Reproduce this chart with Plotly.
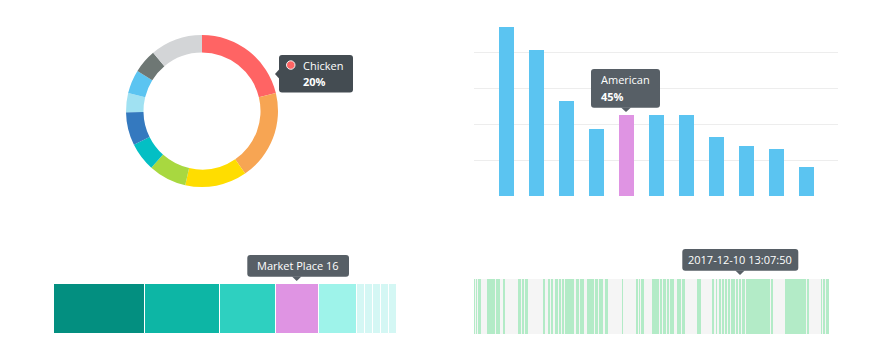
import numpy as np
import plotly.graph_objects as go

W, H = 880, 355
OX, OY = 8, 8  # page body margin offset

# ---------------- data ----------------
# Donut
pie_labels = ["Chicken", "Pizza", "Burgers", "Salad", "Sushi", "Noodles",
              "Tacos", "Soup", "Steak", "Other"]
pie_values = [21, 19, 13, 8, 6, 7, 4, 5, 5, 11]
pie_colors = ["#FF6464", "#F7A553", "#FFDD00", "#A8D840", "#03BFC4",
              "#3479BF", "#A0E1F2", "#5BC4F1", "#6E7774", "#D3D5D7"]

# Bar chart (percent)
bar_cats = ["Italian", "Chinese", "Mexican", "Japanese", "American", "Thai",
            "Indian", "French", "Greek", "Korean", "Spanish"]
bar_values = [94, 81, 53, 37, 45, 45, 45, 33, 28, 26, 16]
bar_highlight = "American"

# Stacked share bar
share_labels = ["Online", "Retail", "Wholesale", "Market Place", "Direct",
                "Partner", "Events", "Catalog", "Phone", "Other"]
share_values = [34, 28, 21, 16, 14, 3, 3, 3, 3, 3]
share_colors = ["#038F80", "#0DB6A5", "#2ED0C0", "#DF94E3", "#9EF3EA",
                "#D4F7F4", "#D4F7F4", "#D4F7F4", "#D4F7F4", "#D4F7F4"]

# Timeline events (minutes from start of window, duration in minutes)
event_start = [0, 8, 16, 51, 79, 89, 99, 119, 176, 192, 205, 279, 299, 308,
               323, 340, 352, 363, 408, 424, 452, 461, 475, 483, 501, 509,
               523, 592, 651, 660, 668, 712, 744, 757, 775, 784, 793, 812,
               823, 833, 895, 903, 955, 968, 978, 992, 1006, 1016, 1028,
               1039, 1050, 1060, 1071, 1088, 1188, 1242, 1333, 1388, 1397,
               1409]
event_dur = [4, 4, 12, 24, 5, 6, 4, 4, 12, 5, 10, 4, 5, 8, 13, 8, 7, 36, 11,
             15, 5, 10, 4, 13, 4, 7, 13, 4, 5, 4, 11, 28, 7, 11, 5, 5, 4, 7,
             5, 10, 4, 4, 4, 4, 9, 8, 5, 6, 5, 5, 5, 5, 12, 96, 6, 86, 6, 4,
             4, 10]
timeline_span = 1420

# ---------------- helpers ----------------
def px(x):
    return (x - OX) / W


def py(y):
    return 1 - (y - OY) / H


def rrect(x0, y0, x1, y1, r):
    rx, ry = r / W, r / H
    X0, X1 = px(x0), px(x1)
    Y0, Y1 = py(y0), py(y1)  # Y0 top (larger), Y1 bottom
    return (f"M{X0+rx},{Y0} L{X1-rx},{Y0} Q{X1},{Y0} {X1},{Y0-ry} "
            f"L{X1},{Y1+ry} Q{X1},{Y1} {X1-rx},{Y1} L{X0+rx},{Y1} "
            f"Q{X0},{Y1} {X0},{Y1+ry} L{X0},{Y0-ry} Q{X0},{Y0} {X0+rx},{Y0} Z")


def tri(points):
    p = [f"{px(a)},{py(b)}" for a, b in points]
    return "M" + " L".join(p) + " Z"


FONT = "Open Sans"
fig = go.Figure()

# Donut
fig.add_trace(go.Pie(
    labels=pie_labels, values=pie_values, hole=0.77, sort=False,
    direction="clockwise", rotation=0, textinfo="none", hoverinfo="skip",
    marker=dict(colors=pie_colors, line=dict(width=0)),
    domain=dict(x=[px(202 - 76), px(202 + 76)], y=[py(187), py(35)]),
    showlegend=False,
))

# Bar chart
fig.add_trace(go.Bar(
    x=bar_cats, y=bar_values, width=0.5,
    marker=dict(color=["#DF94E3" if c == bar_highlight else "#5BC4F1" for c in bar_cats],
                line=dict(width=0)),
    xaxis="x", yaxis="y", showlegend=False, hoverinfo="skip",
))

# Stacked share bar
share_base = np.concatenate([[0], np.cumsum(share_values)[:-1]])
fig.add_trace(go.Bar(
    y=[0] * len(share_values), x=share_values, base=share_base,
    orientation="h", width=1,
    marker=dict(color=share_colors, line=dict(color="white", width=1)),
    xaxis="x2", yaxis="y2", showlegend=False, hoverinfo="skip",
))

# Timeline
fig.add_trace(go.Bar(
    y=[0] * len(event_start), x=event_dur, base=event_start,
    orientation="h", width=1,
    marker=dict(color="#B3EBC7", line=dict(width=0)),
    xaxis="x3", yaxis="y3", showlegend=False, hoverinfo="skip",
))

hidden = dict(showgrid=False, zeroline=False, showticklabels=False,
              showline=False, ticks="", fixedrange=True)

shapes = [
    # timeline background
    dict(type="rect", xref="x3 domain", yref="y3 domain", x0=0, x1=1, y0=0, y1=1,
         fillcolor="#F5F5F5", line=dict(width=0), layer="below"),
    # donut tooltip
    dict(type="path", xref="paper", yref="paper", path=rrect(279, 55, 353, 92.5, 3),
         fillcolor="#444C52", line=dict(width=0)),
    dict(type="path", xref="paper", yref="paper",
         path=tri([(279.5, 69), (275, 74), (279.5, 79)]),
         fillcolor="#444C52", line=dict(width=0)),
    dict(type="circle", xref="paper", yref="paper",
         x0=px(286.5), x1=px(295), y0=py(69.3), y1=py(60.8),
         fillcolor="#FF6464", line=dict(color="#F2F2F2", width=1)),
    # bar tooltip
    dict(type="path", xref="paper", yref="paper", path=rrect(591, 69, 660, 107.7, 3),
         fillcolor="#575F66", line=dict(width=0)),
    dict(type="path", xref="paper", yref="paper",
         path=tri([(621, 107.5), (626, 112), (631, 107.5)]),
         fillcolor="#575F66", line=dict(width=0)),
    # market tooltip
    dict(type="path", xref="paper", yref="paper", path=rrect(247.3, 255, 349, 276.7, 3),
         fillcolor="#575F66", line=dict(width=0)),
    dict(type="path", xref="paper", yref="paper",
         path=tri([(292, 276.5), (296.7, 281), (301.4, 276.5)]),
         fillcolor="#575F66", line=dict(width=0)),
    # timeline tooltip
    dict(type="path", xref="paper", yref="paper", path=rrect(682.3, 249, 798.3, 270.7, 3),
         fillcolor="#575F66", line=dict(width=0)),
    dict(type="path", xref="paper", yref="paper",
         path=tri([(735.3, 270.5), (740, 275), (744.7, 270.5)]),
         fillcolor="#575F66", line=dict(width=0)),
]

def ann(text, x, y, anchor="left", size=11):
    return dict(text=text, x=px(x), y=py(y), xref="paper", yref="paper",
                xanchor=anchor, yanchor="middle", showarrow=False,
                font=dict(family=FONT, size=size, color="white"))

annotations = [
    ann("Chicken", 301, 65.5),
    ann("<b>20%</b>", 301, 82),
    ann("American", 599, 80),
    ann("<b>45%</b>", 599, 96.5),
    ann("Market Place 16", 298.2, 265.8, "center"),
    ann("2017-12-10 13:07:50", 740.3, 259.8, "center"),
]

fig.update_layout(
    width=W, height=H, margin=dict(l=0, r=0, t=0, b=0),
    paper_bgcolor="white", plot_bgcolor="rgba(0,0,0,0)",
    barmode="overlay", bargap=0,
    font=dict(family=FONT),
    xaxis=dict(domain=[px(474), px(838)], range=[-1.08, 11.05], type="category", **hidden),
    yaxis=dict(domain=[py(196.3), py(16.3)], range=[0, 100],
               tickvals=[0, 20, 40, 60, 80], showgrid=True, gridcolor="#EDEDED",
               gridwidth=1, zeroline=False, showticklabels=False, showline=False,
               ticks="", fixedrange=True),
    xaxis2=dict(domain=[px(54), px(397)], range=[0, sum(share_values)], anchor="y2", **hidden),
    yaxis2=dict(domain=[py(334), py(284)], range=[-0.5, 0.5], anchor="x2", **hidden),
    xaxis3=dict(domain=[px(474), px(829)], range=[0, timeline_span], anchor="y3", **hidden),
    yaxis3=dict(domain=[py(334), py(279)], range=[-0.5, 0.5], anchor="x3", **hidden),
    shapes=shapes, annotations=annotations,
)

fig.write_html("out.html")
